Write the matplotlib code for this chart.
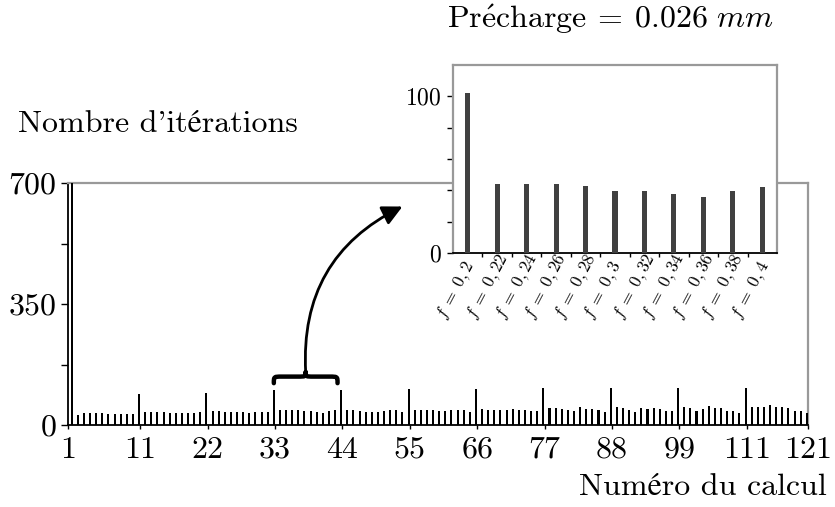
import matplotlib
matplotlib.use("Agg")
import matplotlib.pyplot as plt
import numpy as np
from matplotlib.patches import FancyArrowPatch, PathPatch
from matplotlib.path import Path
import matplotlib.transforms as mtransforms

plt.rcParams['font.family'] = ['cmr10', 'STIXGeneral']
plt.rcParams['mathtext.fontset'] = 'cm'
plt.rcParams['axes.formatter.use_mathtext'] = True

# ---------------- data ----------------
runs = list(range(1, 122))
iterations = [
    700, 29, 34, 34, 34, 34, 33, 33, 33, 32, 31,
    89, 37, 37, 37, 37, 36, 36, 34, 34, 36, 37,
    94, 40, 40, 39, 39, 37, 37, 36, 37, 37, 38,
    102, 44, 44, 44, 43, 39.5, 39.5, 37.6, 35.7, 39.5, 42,
    101, 43, 43, 41, 39, 39, 39, 40, 42, 44, 37,
    104, 43, 43, 42, 42, 41, 41, 42, 42, 43, 39,
    104, 47, 44, 44, 44, 44, 47, 44, 44, 40, 40,
    107, 48, 48, 46, 43, 40, 51, 46, 46, 43, 37,
    107, 51, 48, 43, 37, 48, 46, 48, 46, 40, 40,
    107, 51, 48, 40, 46, 55, 48, 48, 41, 40, 34,
    107, 51, 51, 51, 58, 51, 51, 48, 41, 40, 34,
]
x_tick_labels = ['1', '11', '22', '33', '44', '55', '66', '77', '88', '99', '111', '121']
x_tick_pos = [0.4, 12.2, 23.2, 34.2, 45.2, 56.2, 67.2, 78.2, 89.2, 100.2, 111.2, 121.2]

inset_labels = ['0,2', '0,22', '0,24', '0,26', '0,28', '0,3', '0,32', '0,34', '0,36', '0,38', '0,4']
inset_values = [102, 44, 44, 44, 43, 39.5, 39.5, 37.6, 35.7, 39.5, 42]
zoom_start, zoom_end = 34, 44

# ---------------- figure ----------------
W, H = 835, 507
fig = plt.figure(figsize=(W / 100, H / 100), dpi=100)

def fbox(l, t, r, b):
    return [l / W, 1 - b / H, (r - l) / W, (b - t) / H]

FS = 23

ax = fig.add_axes(fbox(68, 183, 808, 425))
ax.bar(runs, iterations, width=0.33, color='black', zorder=3)
ax.set_xlim(0.4, 121.2)
ax.set_ylim(0, 700)
ax.set_xticks(x_tick_pos)
ax.set_xticklabels(x_tick_labels)
ax.set_yticks([0, 350, 700])
ax.set_yticks([175, 525], minor=True)
ax.tick_params(axis='x', direction='out', length=3, width=1, labelsize=FS, pad=5)
ax.tick_params(axis='y', which='both', direction='out', length=5, width=1, labelsize=FS, pad=3)
for s in ['top', 'right']:
    ax.spines[s].set_color('#999999')
    ax.spines[s].set_linewidth(1.6)
for s in ['left', 'bottom']:
    ax.spines[s].set_color('black')
    ax.spines[s].set_linewidth(1.3)

# brace over the zoomed group
x0, x1 = zoom_start, zoom_end + 0.4
xc = (x0 + x1) / 2
yb, ym, yt = 121, 140, 153
q = 1.3
verts = [(x0, yb), (x0, ym), (x0, ym), (x0 + q, ym),
         (xc - q, ym),
         (xc, ym), (xc, ym), (xc, yt),
         (xc, ym), (xc, ym), (xc + q, ym),
         (x1 - q, ym),
         (x1, ym), (x1, ym), (x1, yb)]
codes = [Path.MOVETO, Path.CURVE4, Path.CURVE4, Path.CURVE4,
         Path.LINETO,
         Path.CURVE4, Path.CURVE4, Path.CURVE4,
         Path.CURVE4, Path.CURVE4, Path.CURVE4,
         Path.LINETO,
         Path.CURVE4, Path.CURVE4, Path.CURVE4]
ax.add_patch(PathPatch(Path(verts, codes), fill=False, lw=3.2, color='black',
                       capstyle='round', joinstyle='round', zorder=4))

arrow = FancyArrowPatch((xc, yt), (55.0, 632), connectionstyle='arc3,rad=-0.33',
                        arrowstyle='-|>,head_length=0.6,head_width=0.3',
                        mutation_scale=20, lw=2, color='black', zorder=4,
                        shrinkA=0, shrinkB=0)
ax.add_patch(arrow)

# ---------------- inset ----------------
axi = fig.add_axes(fbox(453, 65, 777, 253), zorder=5)
axi.set_facecolor('white')
pos = np.arange(len(inset_values))
axi.bar(pos, inset_values, width=0.17, color='#404040', zorder=3)
axi.set_xlim(-0.5, 10.5)
axi.set_ylim(0, 120)
axi.set_yticks([0, 100])
axi.set_yticks([20, 40, 60, 80], minor=True)
axi.set_xticks([])
axi.set_xticks(pos[:-1] + 0.5, minor=True)
axi.tick_params(axis='x', which='minor', direction='out', length=3, width=1)
axi.tick_params(axis='y', which='both', direction='out', length=4, width=1, labelsize=17, pad=4)
for s in ['top', 'right', 'left']:
    axi.spines[s].set_color('#999999')
    axi.spines[s].set_linewidth(1.6)
axi.spines['bottom'].set_color('black')
axi.spines['bottom'].set_linewidth(1.3)

trans = mtransforms.blended_transform_factory(axi.transData, axi.transAxes)
for p, lab in zip(pos, inset_labels):
    axi.text(p - 0.6, -0.37, r'$f\;=\;%s$' % lab, transform=trans, rotation=62,
             rotation_mode='anchor', ha='left', va='bottom', fontsize=12.5, clip_on=False)

# ---------------- texts ----------------
fig.text(18 / W, 1 - 131.5 / H, "Nombre d'itérations", fontsize=FS, ha='left', va='baseline')
fig.text(827 / W, 1 - 495 / H, "Numéro du calcul", fontsize=FS, ha='right', va='baseline')
fig.text(610 / W, 1 - 28.5 / H, r"$\mathrm{Pr\acute{e}charge}\:=\:0.026\ mm$", fontsize=FS,
         ha='center', va='baseline')

fig.savefig('out.png', dpi=100)
